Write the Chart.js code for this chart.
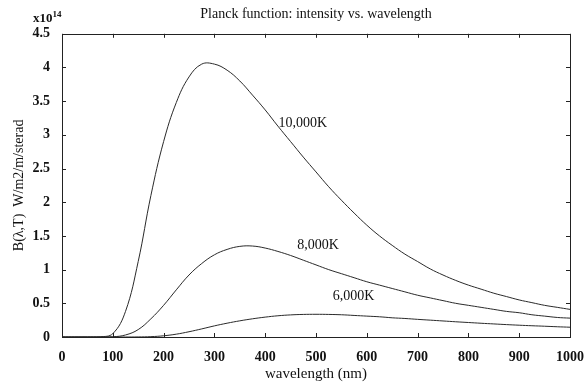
<!DOCTYPE html>
<html>
<head>
<meta charset="utf-8">
<script src="https://cdn.jsdelivr.net/npm/chart.js@4"></script>
<style>
  html, body { margin: 0; padding: 0; background: #fff; }
  #wrap { width: 588px; height: 384px; }
</style>
</head>
<body>
<div id="wrap"><canvas id="planckChart"></canvas></div>
<script>
// wavelength samples (nm), values in units of 1e14
var wavelengths = [0, 25, 50, 75, 100, 125, 150, 175, 200, 225, 250, 275, 300, 325, 350, 375, 400,
  425, 450, 475, 500, 525, 550, 575, 600, 625, 650, 675, 700, 725, 750, 775, 800, 825, 850, 875,
  900, 925, 950, 975, 1000];
var b10000 = [0, 0, 0, 0.002, 0.05, 0.38, 1.12, 2.10, 2.90, 3.48, 3.86, 4.05, 4.05, 3.96, 3.80, 3.59,
  3.37, 3.13, 2.90, 2.67, 2.45, 2.23, 2.03, 1.84, 1.66, 1.50, 1.36, 1.23, 1.12, 1.01, 0.92, 0.84,
  0.77, 0.71, 0.65, 0.60, 0.55, 0.51, 0.47, 0.44, 0.41];
var b8000 = [0, 0, 0, 0, 0.003, 0.03, 0.11, 0.27, 0.47, 0.70, 0.92, 1.09, 1.22, 1.30, 1.345, 1.35,
  1.32, 1.27, 1.21, 1.14, 1.07, 1.00, 0.94, 0.88, 0.82, 0.77, 0.72, 0.67, 0.62, 0.58, 0.54, 0.50,
  0.47, 0.44, 0.41, 0.38, 0.36, 0.33, 0.31, 0.29, 0.28];
var b6000 = [0, 0, 0, 0, 0, 0, 0.001, 0.005, 0.018, 0.042, 0.078, 0.12, 0.165, 0.205, 0.24, 0.27,
  0.295, 0.315, 0.328, 0.335, 0.337, 0.335, 0.33, 0.32, 0.31, 0.30, 0.285, 0.275, 0.262, 0.25, 0.238,
  0.226, 0.215, 0.204, 0.194, 0.184, 0.175, 0.167, 0.16, 0.152, 0.145];

// curve annotations (text, anchor wavelength, anchor value)
var curveLabels = ['10,000K', '8,000K', '6,000K'];
var labelX = [426, 463, 533];
var labelY = [3.17, 1.36, 0.61];

var xTicks = [0, 100, 200, 300, 400, 500, 600, 700, 800, 900, 1000];
var yTicks = [0, 0.5, 1, 1.5, 2, 2.5, 3, 3.5, 4, 4.5];

function toPoints(ys) {
    return wavelengths.map(function (w, i) { return { x: w, y: ys[i] }; });
}

function curve(label, ys) {
    return {
        label: label,
        data: toPoints(ys),
        borderColor: '#2a2a2a',
        borderWidth: 1,
        pointRadius: 0,
        fill: false,
        tension: 0.4
    };
}

// box round the plot, inward ticks, curve labels and the exponent
var framePlugin = {
    id: 'frame',
    afterDraw: function (chart) {
        var ctx = chart.ctx;
        var a = chart.chartArea;
        var xs = chart.scales.x, ys = chart.scales.y;
        ctx.save();
        ctx.strokeStyle = '#222';
        ctx.lineWidth = 1;
        ctx.strokeRect(Math.round(a.left) + 0.5, Math.round(a.top) + 0.5,
            Math.round(a.right - a.left), Math.round(a.bottom - a.top));

        ctx.beginPath();
        xTicks.forEach(function (v) {
            var px = Math.round(xs.getPixelForValue(v)) + 0.5;
            ctx.moveTo(px, a.bottom); ctx.lineTo(px, a.bottom - 4);
            ctx.moveTo(px, a.top); ctx.lineTo(px, a.top + 4);
        });
        yTicks.forEach(function (v) {
            var py = Math.round(ys.getPixelForValue(v)) + 0.5;
            ctx.moveTo(a.left, py); ctx.lineTo(a.left + 4, py);
            ctx.moveTo(a.right, py); ctx.lineTo(a.right - 4, py);
        });
        ctx.stroke();

        ctx.fillStyle = '#111';
        ctx.font = '14px "Liberation Serif"';
        ctx.textAlign = 'left';
        ctx.textBaseline = 'middle';
        curveLabels.forEach(function (t, i) {
            ctx.fillText(t, xs.getPixelForValue(labelX[i]), ys.getPixelForValue(labelY[i]));
        });

        ctx.textBaseline = 'alphabetic';
        ctx.font = 'bold 13px "Liberation Serif"';
        ctx.fillText('x10', 33, 22);
        var w = ctx.measureText('x10').width;
        ctx.font = 'bold 9px "Liberation Serif"';
        ctx.fillText('14', 33 + w, 17);
        ctx.restore();
    }
};

Chart.defaults.font.family = '"Liberation Serif"';
Chart.defaults.color = '#111';

var ctx = document.getElementById('planckChart').getContext('2d');
var planckChart = new Chart(ctx, {
    type: 'line',
    data: {
        datasets: [
            curve('10,000K', b10000),
            curve('8,000K', b8000),
            curve('6,000K', b6000)
        ]
    },
    options: {
        responsive: true,
        maintainAspectRatio: false,
        animation: false,
        layout: { padding: { left: 0, right: 13, top: 0, bottom: 0 } },
        scales: {
            x: {
                type: 'linear',
                min: 0,
                max: 1000,
                grid: { display: false },
                border: { display: false },
                ticks: {
                    stepSize: 100,
                    padding: 4,
                    maxRotation: 0,
                    font: { size: 14, weight: 'bold' },
                    callback: function (v) { return String(v); }
                },
                title: {
                    display: true,
                    text: 'wavelength (nm)',
                    font: { size: 15 },
                    padding: { top: 0, bottom: 1 }
                },
                afterFit: function (scale) { scale.height = 47; }
            },
            y: {
                min: 0,
                max: 4.5,
                grid: { display: false },
                border: { display: false },
                ticks: {
                    stepSize: 0.5,
                    padding: 4,
                    font: { size: 14, weight: 'bold' },
                    callback: function (v) { return String(v); }
                },
                title: {
                    display: true,
                    text: 'B(λ,T)  W/m2/m/sterad',
                    font: { size: 14 },
                    padding: { top: 11, bottom: 0 }
                },
                afterFit: function (scale) { scale.width = 62; }
            }
        },
        plugins: {
            legend: { display: false },
            tooltip: { enabled: false },
            title: {
                display: true,
                fullSize: false,
                text: 'Planck function: intensity vs. wavelength',
                font: { size: 14, weight: 'normal' },
                padding: { top: 6, bottom: 11 }
            }
        }
    },
    plugins: [framePlugin]
});
</script>
</body>
</html>
